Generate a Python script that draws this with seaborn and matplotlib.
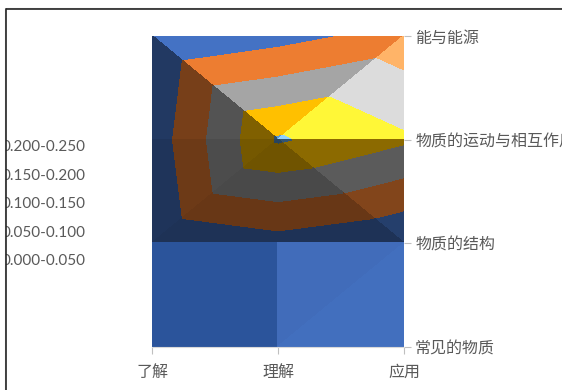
import numpy as np
import matplotlib
matplotlib.use("Agg")
import matplotlib.pyplot as plt
import matplotlib.tri as mtri
from matplotlib.lines import Line2D
from matplotlib.patches import Rectangle
import seaborn as sns

# Cognitive levels (columns) and content topics (rows, bottom to top)
cog_levels = ["了解", "理解", "应用"]
topics = ["常见的物质", "物质的结构", "物质的运动与相互作用", "能与能源"]

# Share of items for each topic across the three cognitive levels
common_matter = [0.000, 0.000, 0.000]
matter_structure = [0.000, 0.028, 0.000]
motion_interaction = [0.019, 0.205, 0.157]
energy = [0.000, 0.030, 0.070]

# Contour bands and their labels
bands = [0.00, 0.05, 0.10, 0.15, 0.20, 0.25]
band_labels = ["0.000-0.050", "0.050-0.100", "0.100-0.150",
               "0.150-0.200", "0.200-0.250"]
band_hex = ["#4472C4", "#ED7D31", "#A5A5A5", "#FFC000", "#5B9BD5"]

sns.set_theme(style="white")
plt.rcParams["font.family"] = ["Noto Sans CJK SC", "DejaVu Sans"]
base_colors = sns.color_palette(band_hex)

grid = np.array([common_matter, matter_structure, motion_interaction, energy])
nrow, ncol = grid.shape
cols, rows = np.meshgrid(np.arange(ncol), np.arange(nrow))
px = cols.ravel().astype(float)
py = rows.ravel().astype(float)
pz = grid.ravel()


def vid(c, r):
    return r * ncol + c


def shade(rgb, k=1.0, add=(0.0, 0.0, 0.0)):
    arr = np.array(rgb) * k + np.array(add) / 255.0
    return tuple(np.clip(arr, 0, 1))


# Surface facets with their lighting: (corners, brightness factor, offset)
lift = (55, 55, 55)
cool = (-8, -2, 8)
none = (0, 0, 0)
facets = [
    ([(0, 3), (1, 3), (1, 2)], 1.00, none),
    ([(0, 3), (0, 2), (1, 2)], 0.50, none),
    ([(1, 3), (1, 2), (2, 3)], 1.00, none),
    ([(1, 2), (2, 2), (2, 3)], 1.00, lift),
    ([(0, 2), (1, 2), (0, 1)], 0.46, none),
    ([(1, 2), (0, 1), (1, 1)], 0.44, none),
    ([(1, 2), (2, 2), (2, 1)], 0.55, none),
    ([(1, 2), (1, 1), (2, 1)], 0.44, none),
    ([(0, 1), (1, 1), (0, 0)], 0.75, cool),
    ([(1, 1), (0, 0), (1, 0)], 0.75, cool),
    ([(1, 1), (2, 1), (1, 0)], 0.95, none),
    ([(2, 1), (1, 0), (2, 0)], 0.97, none),
]

W, H = 562, 390
fig = plt.figure(figsize=(W / 100, H / 100), dpi=100)
ax = fig.add_axes([152 / W, 1 - 347 / H, 252 / W, 311 / H])

draw_levels = list(bands)
draw_levels[0] -= 1e-9
for corners, k, add in facets:
    tri = mtri.Triangulation(px, py, triangles=[[vid(c, r) for c, r in corners]])
    colors = [shade(c, k, add) for c in base_colors]
    cs = ax.tricontourf(tri, pz, levels=draw_levels, colors=colors)
    cs.set_edgecolor("face")
    cs.set_linewidth(0.6)

ax.set_xlim(0, ncol - 1)
ax.set_ylim(0, nrow - 1)
ax.set_xticks(range(ncol), cog_levels)
ax.set_yticks(range(nrow), topics)
ax.yaxis.tick_right()
for side in ["top", "left", "right"]:
    ax.spines[side].set_visible(False)
ax.spines["bottom"].set_color("#D9D9D9")
ax.spines["bottom"].set_linewidth(0.8)
ax.tick_params(axis="x", bottom=True, length=5, width=0.8, color="#BFBFBF",
               pad=7, labelsize=11.5, labelcolor="#595959")
ax.tick_params(axis="y", right=True, left=False, length=5, width=0.8,
               color="#BFBFBF", pad=3, labelsize=11.5, labelcolor="#595959")

# Band legend on the left
legend_y = [147, 176, 204, 233, 261]
for lab, y in zip(band_labels[::-1], legend_y):
    fig.text(86 / W, 1 - y / H, lab, ha="right", va="center", fontsize=11,
             family="Lato", color="#595959")

# Chart frame
fig.patches.append(Rectangle((0, 0), 5.5 / W, 1, transform=fig.transFigure,
                             facecolor="white", edgecolor="none", zorder=5))
fig.patches.append(Rectangle((0, 1 - 8 / H), 1, 8 / H, transform=fig.transFigure,
                             facecolor="white", edgecolor="none", zorder=5))
fig.lines.append(Line2D([5.5 / W, 1], [1 - 7.5 / H, 1 - 7.5 / H],
                        transform=fig.transFigure, color="#C8C8C8", lw=0.8, zorder=6))
fig.lines.append(Line2D([6.5 / W, 1], [1 - 9.2 / H, 1 - 9.2 / H],
                        transform=fig.transFigure, color="#262626", lw=1.2, zorder=6))
fig.lines.append(Line2D([5.2 / W, 5.2 / W], [0, 1 - 7.5 / H],
                        transform=fig.transFigure, color="#C8C8C8", lw=0.8, zorder=6))
fig.lines.append(Line2D([6.5 / W, 6.5 / W], [0, 1 - 9.2 / H],
                        transform=fig.transFigure, color="#262626", lw=1.2, zorder=6))

fig.savefig("out.png", dpi=100)
